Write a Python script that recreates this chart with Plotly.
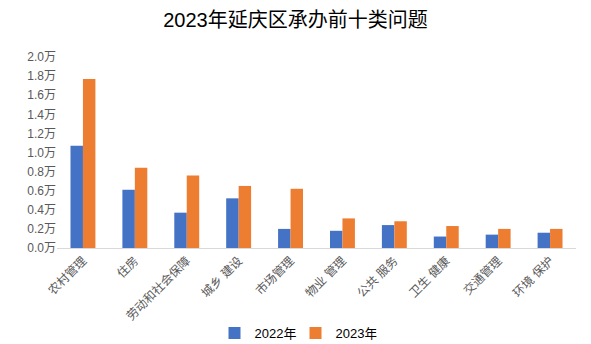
import plotly.graph_objects as go

categories = ["农村管理", "住房", "劳动和社会保障", "城乡 建设", "市场管理",
              "物业 管理", "公共 服务", "卫生 健康", "交通管理", "环境 保护"]
v2022 = [1.07, 0.61, 0.37, 0.52, 0.20, 0.18, 0.24, 0.12, 0.14, 0.16]
v2023 = [1.77, 0.84, 0.76, 0.65, 0.62, 0.31, 0.28, 0.23, 0.20, 0.20]
series_names = ["2022年", "2023年"]
colors = ["#4472C4", "#ED7D31"]
tick_vals = [i * 0.2 for i in range(11)]
tick_text = [f"{v:.1f}万" for v in tick_vals]

font_fam = "Liberation Sans, Arial, Noto Sans CJK SC, sans-serif"

fig = go.Figure()
for name, vals, c in zip(series_names, [v2022, v2023], colors):
    fig.add_trace(go.Bar(x=categories, y=vals, name=name, marker_color=c,
                         marker_line_width=0))

fig.update_layout(
    width=591, height=344,
    margin=dict(l=57, r=15, t=57, b=96, autoexpand=False),
    paper_bgcolor="white", plot_bgcolor="white",
    title=dict(text="2023年延庆区承办前十类问题", x=0.5, xanchor="center",
               y=0.942, yref="container", yanchor="middle",
               font=dict(family=font_fam, size=20, color="#000000")),
    barmode="group", bargap=0.52, bargroupgap=0,
    showlegend=True,
    legend=dict(orientation="h", x=0.5, xanchor="center", y=0.032, yanchor="middle",
                xref="container", yref="container",
                font=dict(family=font_fam, size=13, color="#000000"),
                itemwidth=30, entrywidth=36, entrywidthmode="pixels",
                traceorder="normal"),
    font=dict(family=font_fam),
)
fig.update_xaxes(tickangle=-45, showline=True, linecolor="#D9D9D9", linewidth=1,
                 tickfont=dict(family=font_fam, size=12, color="#595959"),
                 showgrid=False, ticks="", automargin=False)
fig.update_yaxes(range=[0, 2.0], tickvals=tick_vals, ticktext=tick_text,
                 showgrid=False, zeroline=False, automargin=False,
                 tickfont=dict(family=font_fam, size=12, color="#595959"),
                 ticks="")

fig.write_html("out.html")
